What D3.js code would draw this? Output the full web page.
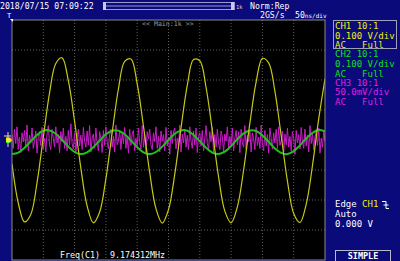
<!DOCTYPE html>
<html lang="en">
<head>
<meta charset="UTF-8">
<title>Scope capture</title>
<script src="https://d3js.org/d3.v7.min.js"></script>
<style>
  html, body { margin: 0; padding: 0; background: #0a0a7a; }
  svg { display: block; }
  text { font-family: "DejaVu Sans Mono", monospace; white-space: pre; }
</style>
</head>
<body>
<div id="scope"></div>
<script>
// ---- data (volts, sampled in ns across the 500 ns screen) ----
const timeStepCh1 = 10;   // ns between CH1 / CH2 samples
const timeStepCh3 = 2;    // ns between CH3 samples

const ch1Volts = [
  -0.079, -0.210, -0.273, -0.248, -0.142, 0.009, 0.157, 0.255, 0.274, 0.198,
   0.062, -0.094, -0.220, -0.276, -0.240, -0.129, 0.024, 0.170, 0.262, 0.270,
   0.187,  0.046, -0.109, -0.229, -0.277, -0.232, -0.114, 0.040, 0.182, 0.268,
   0.264,  0.175,  0.031, -0.123, -0.237, -0.276, -0.223, -0.100, 0.056, 0.194,
   0.272,  0.257,  0.162,  0.015, -0.137, -0.245, -0.275, -0.214, -0.085, 0.071,
   0.204
];
const ch2Volts = [
  -0.047, -0.042, -0.026, -0.004, 0.017, 0.031, 0.032, 0.021, 0.000, -0.022,
  -0.040, -0.047, -0.041, -0.024, -0.002, 0.019, 0.031, 0.031, 0.019, -0.002,
  -0.024, -0.041, -0.047, -0.040, -0.022, 0.000, 0.021, 0.032, 0.031, 0.017,
  -0.004, -0.026, -0.042, -0.047, -0.039, -0.020, 0.003, 0.022, 0.032, 0.030,
   0.015, -0.006, -0.028, -0.043, -0.047, -0.037, -0.018, 0.005, 0.024, 0.033,
   0.029
];
// CH3 in mV (noisy)
const ch3MilliVolts = [
   9,-14,18,-6,22,-16,5,-21,12,-3,
   16,-10,25,-18,8,-5,20,-14,-2,15,
  -22,6,14,-9,21,-15,3,-20,10,24,
  -8,-16,18,2,-12,22,-5,9,-21,14,
  -3,20,-14,6,-18,16,-9,27,-6,-15,
   12,-22,5,18,-10,8,-16,21,-2,-12,
   15,-8,24,-20,3,10,-14,20,-5,-18,
   14,2,-21,16,-9,22,-3,-15,9,18,
  -12,6,-20,25,-8,-2,15,-16,12,-6,
   21,-14,5,-22,18,-9,10,16,-18,3,
  -10,20,-5,-15,24,-12,8,-21,14,2,
   18,-8,-16,12,-3,22,-14,6,-20,15,
  -2,9,-18,21,-10,5,-24,16,-6,14,
   20,-15,3,-9,25,-20,10,-5,18,-12,
   8,-16,22,-2,-14,15,-8,20,-21,6,
   12,-10,16,-18,2,24,-6,-15,14,-3,
   21,-22,9,-12,18,-5,-16,15,5,-20,
   10,-2,22,-14,6,-9,20,-18,3,16,
  -8,14,-21,18,-5,-12,24,-15,8,-3,
   15,-20,12,2,-16,21,-9,5,-14,25,
  -6,-18,16,-10,9,-22,20,3,-15,12,
  -5,18,-14,22,-9,-2,15,-21,10,-8,
   20,-12,6,-18,14,2,-24,16,-5,9,
  -15,21,-3,-14,18,-10,8,-20,24,-6,
   12,-16,5,15,-9,20,-22,3,-12,14,
  -2
];

const channelLabels = ["CH1 10:1", "CH2 10:1", "CH3 10:1"];
const scaleLabels = ["0.100 V/div", "0.100 V/div", "50.0mV/div"];
const couplingLabels = ["AC   Full", "AC   Full", "AC   Full"];
const voltsPerDiv = [0.1, 0.1, 0.05];
const channelColors = ["#f0f000", "#10e010", "#e020e0"];
const traceColors = ["#c8c818", "#20c020", "#c81cc8"];

const width = 400, height = 261;
const plot = { left: 12, top: 20, right: 325, bottom: 260 };
const divsX = 10, divsY = 8;

const svg = d3.select("#scope").append("svg")
    .attr("width", width)
    .attr("height", height);

svg.append("rect").attr("width", width).attr("height", height).attr("fill", "#0a0a7a");

// plot area
svg.append("rect")
    .attr("x", plot.left).attr("y", plot.top)
    .attr("width", plot.right - plot.left).attr("height", plot.bottom - plot.top)
    .attr("fill", "#000");

const x = d3.scaleLinear().domain([0, 500]).range([plot.left, plot.right]);
const gridY = d3.scaleLinear().domain([-divsY / 2, divsY / 2]).range([plot.bottom, plot.top]);

// dotted grid
const grid = svg.append("g").attr("stroke", "#606060").attr("stroke-dasharray", "1,2");
grid.selectAll("line.v")
    .data(d3.range(1, divsX))
    .join("line")
    .attr("x1", d => x(d * 50)).attr("x2", d => x(d * 50))
    .attr("y1", plot.top).attr("y2", plot.bottom);
grid.selectAll("line.h")
    .data(d3.range(-divsY / 2 + 1, divsY / 2))
    .join("line")
    .attr("x1", plot.left).attr("x2", plot.right)
    .attr("y1", d => gridY(d)).attr("y2", d => gridY(d));

svg.append("defs").append("clipPath").attr("id", "clip")
  .append("rect")
    .attr("x", plot.left).attr("y", plot.top)
    .attr("width", plot.right - plot.left).attr("height", plot.bottom - plot.top);

function yFor(ch) {
  const v = voltsPerDiv[ch] * divsY / 2;
  return d3.scaleLinear().domain([-v, v]).range([plot.bottom, plot.top]);
}

const traces = svg.append("g").attr("clip-path", "url(#clip)");

// CH3 magenta noise
const y3 = yFor(2);
traces.append("path")
    .datum(ch3MilliVolts)
    .attr("fill", "none")
    .attr("stroke", traceColors[2])
    .attr("stroke-width", 1)
    .attr("d", d3.line().x((d, i) => x(i * timeStepCh3)).y(d => y3(d / 1000)));

// CH2 green
const y2 = yFor(1);
traces.append("path")
    .datum(ch2Volts)
    .attr("fill", "none")
    .attr("stroke", traceColors[1])
    .attr("stroke-width", 2)
    .attr("d", d3.line().curve(d3.curveCatmullRom).x((d, i) => x(i * timeStepCh1)).y(d => y2(d)));

// CH1 yellow
const y1 = yFor(0);
traces.append("path")
    .datum(ch1Volts)
    .attr("fill", "none")
    .attr("stroke", traceColors[0])
    .attr("stroke-width", 1.2)
    .attr("d", d3.line().curve(d3.curveCatmullRom).x((d, i) => x(i * timeStepCh1)).y(d => y1(d)));

// plot border
svg.append("rect")
    .attr("x", plot.left).attr("y", plot.top)
    .attr("width", plot.right - plot.left).attr("height", plot.bottom - plot.top)
    .attr("fill", "none").attr("stroke", "#8a8a8a").attr("stroke-width", 1);

// top header
svg.append("text").attr("x", 0).attr("y", 9)
    .attr("fill", "#fff").attr("font-size", 8.2).text("2018/07/15 07:09:22");

svg.append("rect").attr("x", 103.5).attr("y", 2.5).attr("width", 131).attr("height", 7)
    .attr("fill", "none").attr("stroke", "#9a9ad0");
svg.append("line").attr("x1", 104).attr("x2", 234).attr("y1", 6).attr("y2", 6)
    .attr("stroke", "#9a9ad0");
svg.append("rect").attr("x", 103).attr("y", 2).attr("width", 3).attr("height", 8)
    .attr("fill", "#c8c8f0");
svg.append("rect").attr("x", 231).attr("y", 2).attr("width", 3).attr("height", 8)
    .attr("fill", "#c8c8f0");
svg.append("text").attr("x", 236).attr("y", 9)
    .attr("fill", "#d0d0d0").attr("font-size", 5.5).text("1k");

svg.append("text").attr("x", 250).attr("y", 9)
    .attr("fill", "#fff").attr("font-size", 8.2).text("Norm:Rep");
svg.append("text").attr("x", 260).attr("y", 18)
    .attr("fill", "#fff").attr("font-size", 8.2).text("2GS/s");
svg.append("text").attr("x", 295).attr("y", 18)
    .attr("fill", "#fff").attr("font-size", 8.2)
    .call(t => {
      t.append("tspan").text("50");
      t.append("tspan").attr("font-size", 6).text("ns/div");
    });

svg.append("text").attr("x", 142).attr("y", 26)
    .attr("fill", "#9a9a9a").attr("font-size", 6.6).text("<< Main:1k >>");

// trigger position marker
svg.append("text").attr("x", 7).attr("y", 18)
    .attr("fill", "#fff").attr("font-size", 7).text("T");
svg.append("path").attr("d", "M10,19 L13,19 L13,22 Z").attr("fill", "#fff");

// channel ground markers on the left edge
const markers = svg.append("g");
[[2, 139], [1, 141], [0, 140]].forEach(([ch, yy]) => {
  markers.append("path")
      .attr("d", `M6,${yy - 2} L10,${yy - 2} L12,${yy} L10,${yy + 2} L6,${yy + 2} Z`)
      .attr("fill", channelColors[ch]);
});
markers.append("line").attr("x1", 8).attr("x2", 8).attr("y1", 132).attr("y2", 147)
    .attr("stroke", "#e0e0a0").attr("stroke-width", 1);
markers.append("line").attr("x1", 4).attr("x2", 11).attr("y1", 136).attr("y2", 136)
    .attr("stroke", "#e0e0a0").attr("stroke-width", 1);

// right panel: channel info
svg.append("rect").attr("x", 333.5).attr("y", 20.5).attr("width", 63).attr("height", 28)
    .attr("fill", "none").attr("stroke", "#a0a0b8");

const info = svg.append("g").attr("font-size", 9);
channelLabels.forEach((lab, i) => {
  const base = 29 + i * 28.3;
  info.append("text").attr("x", 335).attr("y", base).attr("fill", channelColors[i]).text(lab);
  info.append("text").attr("x", 335).attr("y", base + 9.7).attr("fill", channelColors[i]).text(scaleLabels[i]);
  info.append("text").attr("x", 335).attr("y", base + 19.4).attr("fill", channelColors[i]).text(couplingLabels[i]);
});

// trigger info
const trig = svg.append("g").attr("font-size", 9);
trig.append("text").attr("x", 335).attr("y", 207).attr("fill", "#fff")
    .call(t => {
      t.append("tspan").text("Edge ");
      t.append("tspan").attr("fill", channelColors[0]).text("CH1");
    });
trig.append("path").attr("d", "M382,201.5 H386 V208.5 H389 M383.5,205 H388.5")
    .attr("fill", "none").attr("stroke", "#fff").attr("stroke-width", 1);
trig.append("text").attr("x", 335).attr("y", 217).attr("fill", "#fff").text("Auto");
trig.append("text").attr("x", 335).attr("y", 227).attr("fill", "#fff").text("0.000 V");

svg.append("rect").attr("x", 335.5).attr("y", 250.5).attr("width", 55).attr("height", 11)
    .attr("fill", "#0a0a7a").attr("stroke", "#b8b8d0");
svg.append("text").attr("x", 363).attr("y", 259).attr("text-anchor", "middle")
    .attr("fill", "#fff").attr("font-size", 8.5).attr("font-weight", "bold").text("SIMPLE");

// measurement
svg.append("text").attr("x", 60).attr("y", 258)
    .attr("fill", "#fff").attr("font-size", 8.3).text("Freq(C1)  9.174312MHz");
</script>
</body>
</html>
